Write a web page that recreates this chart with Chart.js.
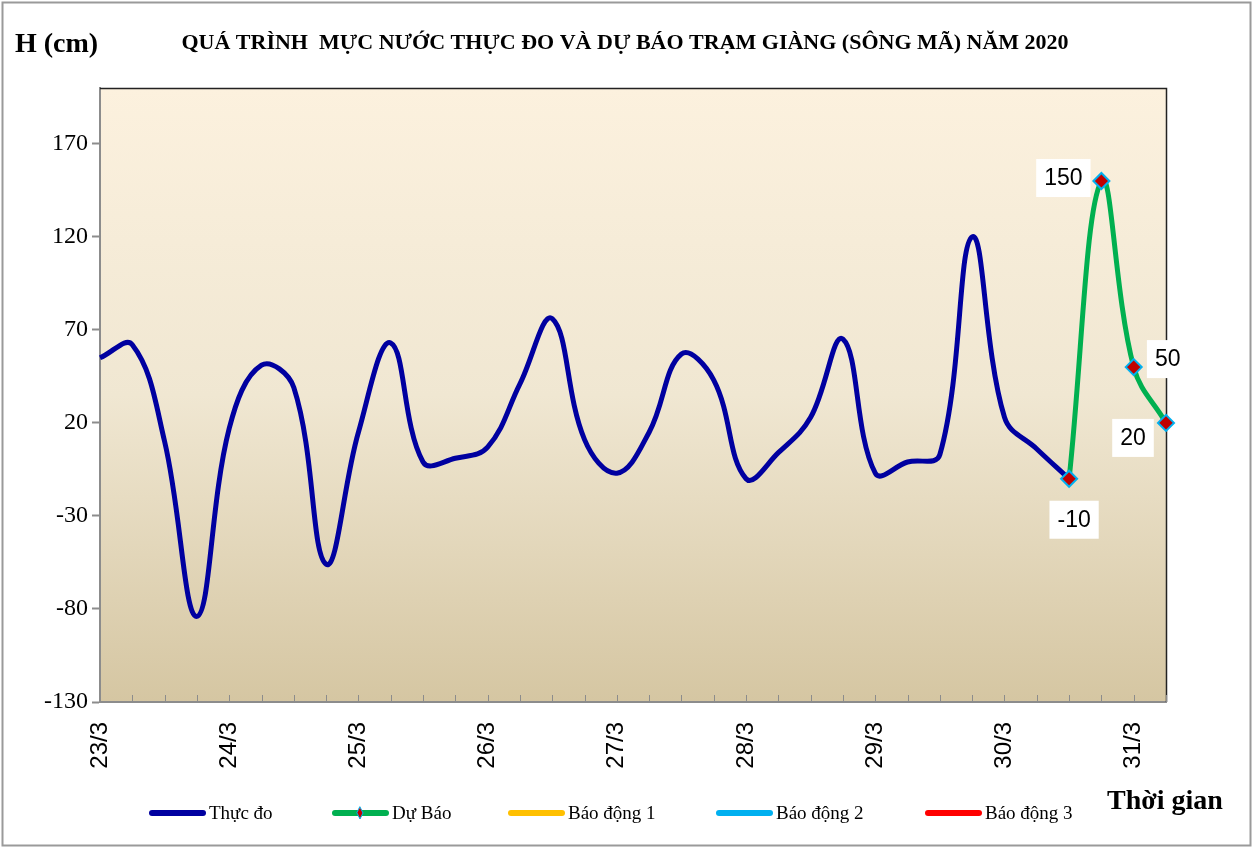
<!DOCTYPE html>
<html>
<head>
<meta charset="utf-8">
<script src="https://cdn.jsdelivr.net/npm/chart.js@4.4.1/dist/chart.umd.min.js"></script>
<style>
  html, body { margin: 0; padding: 0; background: #ffffff; }
  #wrap { width: 1253px; height: 847px; position: relative; }
</style>
</head>
<body>
<div id="wrap"><canvas id="c" width="1253" height="847"></canvas></div>
<script>
// ---- Data ----
const categories = [
  '23/3','','','',
  '24/3','','','',
  '25/3','','','',
  '26/3','','','',
  '27/3','','','',
  '28/3','','','',
  '29/3','','','',
  '30/3','','','',
  '31/3',''
];
const thucDo = [55, 62, 10, -84, 17, 51, 39, -56, 15, 63, -1, 1, 7, 41, 76, 11, -7, 15, 57, 43, -10, 4, 23, 65, -7, -1, 3, 120, 23, 6, -10];
const duBao = [null,null,null,null,null,null,null,null,null,null,
               null,null,null,null,null,null,null,null,null,null,
               null,null,null,null,null,null,null,null,null,null,
               -10, 150, 50, 20];
const baoDong1 = [];
const baoDong2 = [];
const baoDong3 = [];
const yTicks = [-130, -80, -30, 20, 70, 120, 170];
const seriesNames = ['Thực đo', 'Dự Báo', 'Báo động 1', 'Báo động 2', 'Báo động 3'];
const titleText = 'QUÁ TRÌNH  MỰC NƯỚC THỰC ĐO VÀ DỰ BÁO TRẠM GIÀNG (SÔNG MÃ) NĂM 2020';
const yTitle = 'H (cm)';
const xTitle = 'Thời gian';

// ---- Styling ----
const colors = ['#0000A0', '#00B050', '#FFC000', '#00B0F0', '#FF0000'];
const serif = '"Liberation Serif", "Times New Roman", serif';
const sans = '"Liberation Sans", Arial, sans-serif';

// label offsets for the forecast data labels (style only)
const labelOffsets = [
  { dx: 5, dy: 41 },
  { dx: -38, dy: -3 },
  { dx: 34, dy: -8 },
  { dx: -33, dy: 15 }
];

const decorPlugin = {
  id: 'decor',
  beforeDraw(chart) {
    const ctx = chart.ctx;
    const a = chart.chartArea;
    ctx.save();
    ctx.fillStyle = '#ffffff';
    ctx.fillRect(0, 0, chart.width, chart.height);
    // outer frame
    ctx.strokeStyle = '#9a9a9a';
    ctx.lineWidth = 2;
    ctx.strokeRect(2.5, 2.5, chart.width - 5, chart.height - 4);
    // plot area gradient
    const g = ctx.createLinearGradient(0, a.top, 0, a.bottom);
    g.addColorStop(0, '#FCF1DE');
    g.addColorStop(0.5, '#F0E7D2');
    g.addColorStop(1, '#D5C6A2');
    ctx.fillStyle = g;
    ctx.fillRect(a.left, a.top, a.right - a.left, a.bottom - a.top);
    ctx.restore();
  },
  beforeDatasetsDraw(chart) {
    const ctx = chart.ctx;
    const a = chart.chartArea;
    const xs = chart.scales.x;
    ctx.save();
    // plot border top/right
    ctx.strokeStyle = '#222222';
    ctx.lineWidth = 1.5;
    ctx.beginPath();
    ctx.moveTo(a.left, a.top + 0.5);
    ctx.lineTo(a.right + 0.5, a.top + 0.5);
    ctx.lineTo(a.right + 0.5, a.bottom);
    ctx.stroke();
    // inward x ticks
    ctx.strokeStyle = '#8c8c8c';
    ctx.lineWidth = 1;
    for (let i = 0; i < categories.length; i++) {
      const x = Math.round(xs.getPixelForValue(i)) + 0.5;
      ctx.beginPath();
      ctx.moveTo(x, a.bottom);
      ctx.lineTo(x, a.bottom - 7);
      ctx.stroke();
    }
    ctx.restore();
  },
  afterDatasetsDraw(chart) {
    const ctx = chart.ctx;
    const meta = chart.getDatasetMeta(1);
    ctx.save();
    ctx.font = '23px ' + sans;
    ctx.textAlign = 'center';
    ctx.textBaseline = 'middle';
    let k = 0;
    duBao.forEach((v, i) => {
      if (v === null) return;
      const p = meta.data[i];
      const off = labelOffsets[k++] || { dx: 0, dy: -30 };
      const cx = p.x + off.dx, cy = p.y + off.dy;
      const txt = String(v);
      const w = ctx.measureText(txt).width + 16;
      const h = 38;
      ctx.fillStyle = '#ffffff';
      ctx.fillRect(cx - w / 2, cy - h / 2, w, h);
      ctx.fillStyle = '#000000';
      ctx.fillText(txt, cx, cy + 1);
    });
    ctx.restore();
  },
  afterDraw(chart) {
    const ctx = chart.ctx;
    ctx.save();
    // Title
    ctx.fillStyle = '#000000';
    ctx.textBaseline = 'middle';
    ctx.font = 'bold 22px ' + serif;
    ctx.textAlign = 'center';
    ctx.fillText(titleText, 625, 43);
    // Y title
    ctx.font = 'bold 28px ' + serif;
    ctx.textAlign = 'left';
    ctx.fillText(yTitle, 15, 45);
    // X title
    ctx.fillText(xTitle, 1107, 802);
    // Legend
    const legendX = [149, 332, 508, 716, 925];
    const ly = 813;
    ctx.font = '19px ' + serif;
    seriesNames.forEach((name, i) => {
      const x0 = legendX[i];
      ctx.strokeStyle = colors[i];
      ctx.lineWidth = 6;
      ctx.lineCap = 'round';
      ctx.beginPath();
      ctx.moveTo(x0 + 3, ly);
      ctx.lineTo(x0 + 54, ly);
      ctx.stroke();
      if (i === 1) {
        const mx = x0 + 28;
        ctx.beginPath();
        ctx.moveTo(mx, ly - 6);
        ctx.lineTo(mx + 3, ly);
        ctx.lineTo(mx, ly + 6);
        ctx.lineTo(mx - 3, ly);
        ctx.closePath();
        ctx.fillStyle = '#C00000';
        ctx.fill();
        ctx.strokeStyle = '#00B0F0';
        ctx.lineWidth = 1;
        ctx.stroke();
      }
      ctx.fillStyle = '#000000';
      ctx.textAlign = 'left';
      ctx.fillText(name, x0 + 60, ly + 1);
    });
    ctx.restore();
  }
};

new Chart(document.getElementById('c'), {
  type: 'line',
  data: {
    labels: categories,
    datasets: [
      { label: seriesNames[0], data: thucDo, borderColor: colors[0], backgroundColor: colors[0],
        borderWidth: 5, pointRadius: 0, tension: 0.4, order: 1, fill: false },
      { label: seriesNames[1], data: duBao, borderColor: colors[1], backgroundColor: '#C00000',
        borderWidth: 5, pointRadius: 8, pointHoverRadius: 8, pointStyle: 'rectRot',
        pointBackgroundColor: '#C00000', pointBorderColor: '#00B0F0', pointBorderWidth: 2,
        tension: 0.4, order: 0, fill: false },
      { label: seriesNames[2], data: baoDong1, borderColor: colors[2], borderWidth: 5, pointRadius: 0, order: 2 },
      { label: seriesNames[3], data: baoDong2, borderColor: colors[3], borderWidth: 5, pointRadius: 0, order: 3 },
      { label: seriesNames[4], data: baoDong3, borderColor: colors[4], borderWidth: 5, pointRadius: 0, order: 4 }
    ]
  },
  options: {
    responsive: false,
    animation: false,
    devicePixelRatio: 1,
    layout: { padding: { top: 88, right: 87, left: 0, bottom: 0 } },
    plugins: { legend: { display: false }, title: { display: false }, tooltip: { enabled: false } },
    scales: {
      x: {
        type: 'category',
        offset: false,
        afterFit(s) { s.height = 145; },
        grid: { display: true, drawOnChartArea: false, drawTicks: false, color: '#8c8c8c' },
        border: { display: true, color: '#8c8c8c', width: 2 },
        ticks: {
          autoSkip: false, maxRotation: 90, minRotation: 90, padding: 20,
          color: '#000000', font: { family: sans, size: 24 }
        }
      },
      y: {
        min: -130, max: 200,
        afterFit(s) { s.width = 100; },
        afterBuildTicks(s) { s.ticks = yTicks.map(v => ({ value: v })); },
        grid: { display: true, drawOnChartArea: false, drawTicks: true, tickLength: 8, color: '#8c8c8c', tickWidth: 2 },
        border: { display: true, color: '#8c8c8c', width: 2 },
        ticks: { padding: 4, color: '#000000', font: { family: serif, size: 24 } }
      }
    }
  },
  plugins: [decorPlugin]
});
</script>
</body>
</html>
